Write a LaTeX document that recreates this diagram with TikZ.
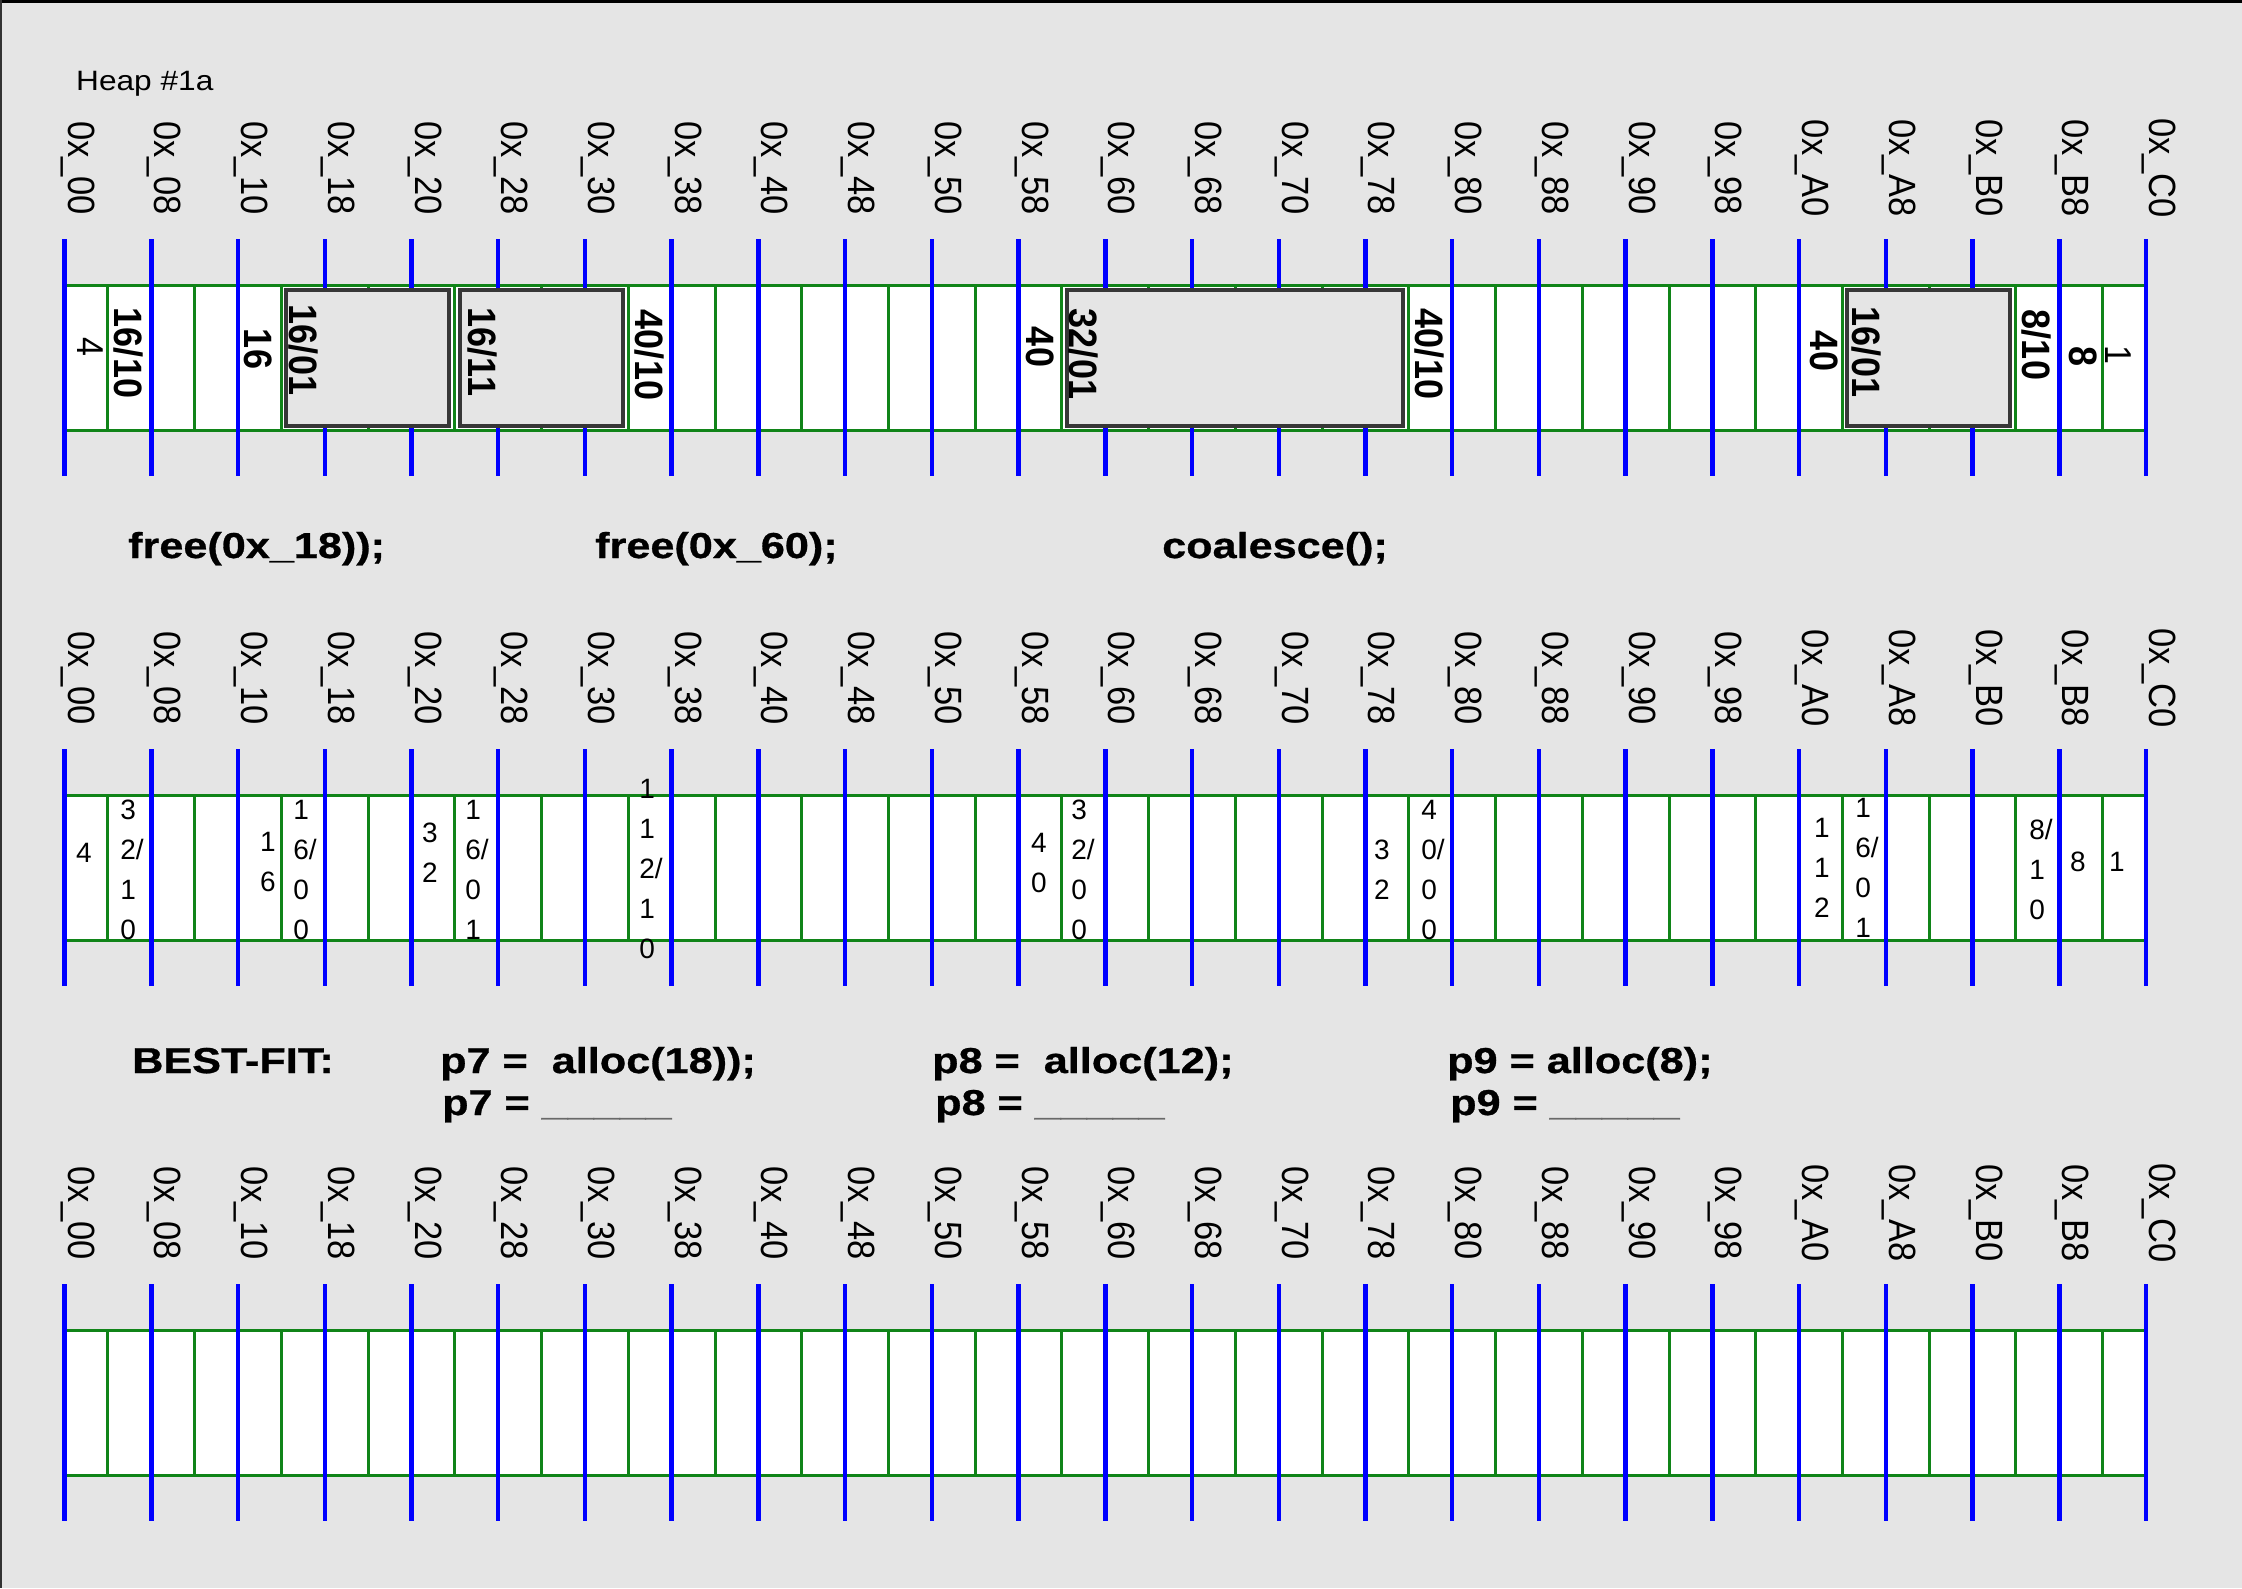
\documentclass[tikz,border=0pt]{standalone}
\usepackage{fontspec}
\setmainfont{Liberation Sans}
\newfontfamily\boldwide{Liberation Sans}[FakeStretch=1.2, BoldFeatures={FakeBold=0.8}]
\newfontfamily\heapfont{Liberation Sans}[FakeStretch=1.13]
\newcommand\vs[1]{\scalebox{1}[1.1]{#1}}
\newcommand\blank{\textcolor{ulgray}{\scalebox{1.08}[1]{\_\_\_\_\_}}}
\definecolor{bg}{RGB}{229,229,229}
\definecolor{cellgreen}{RGB}{16,132,24}
\definecolor{boxgray}{RGB}{55,55,55}
\definecolor{ulgray}{RGB}{105,105,105}
\begin{document}
\begin{tikzpicture}[x=1pt,y=-1pt,
  addr/.style={rotate=-90, anchor=base, inner sep=0pt, font=\fontsize{34.5}{40}\selectfont},
  hdr/.style={rotate=-90, inner sep=0pt, font=\fontsize{36}{40}\selectfont\bfseries},
  hdrn/.style={rotate=-90, inner sep=0pt, font=\fontsize{34}{40}\selectfont},
  stk/.style={align=left, inner sep=0pt, font=\fontsize{28}{40}\selectfont},
  cmd/.style={anchor=base west, inner sep=0pt, font=\boldwide\bfseries\fontsize{36}{42}\selectfont},
  heapst/.style={anchor=base west, inner sep=0pt, font=\heapfont\fontsize{28}{34}\selectfont},
  blueline/.style={draw=blue, line width=4.5pt},
  greenline/.style={draw=cellgreen, line width=3pt},
  blk/.style={draw=boxgray, line width=4pt, fill=bg},
]
\useasboundingbox (0,0) rectangle (2242,1588);
\fill[bg] (0,0) rectangle (2242,1588);
\fill[black] (0,0) rectangle (2242,3);
\fill[black!80] (0,0) rectangle (1.5,1588);

% three heap strips
\foreach \r/\oy in {1/0,2/510,3/1045} {
  \fill[white] (64.6,285+\oy) rectangle (2146,430+\oy);
  \foreach \j in {1,...,47} {
    \draw[greenline] ({64.6+43.3625*\j},285+\oy) -- ({64.6+43.3625*\j},430+\oy);
  }
  \draw[greenline] (64.6,285+\oy) rectangle (2146,430+\oy);
  \foreach \i in {0,...,24} {
    \draw[blueline] ({64.6+86.725*\i},239+\oy) -- ({64.6+86.725*\i},476+\oy);
  }
  \foreach \i/\h in {0/00,1/08,2/10,3/18,4/20,5/28,6/30,7/38,8/40,9/48,10/50,11/58,12/60,
                     13/68,14/70,15/78,16/80,17/88,18/90,19/98,20/A0,21/A8,22/B0,23/B8,24/C0} {
    \node[addr] (lab\r-\i) at ({64.6+86.725*\i+3.5},168+\oy) {\vs{0x\_\h}};
  }
}

% allocated blocks in the first heap
\draw[blk] (286.2,289.5) rectangle (449.2,425.5);
\draw[blk] (459.7,289.5) rectangle (622.6,425.5);
\draw[blk] (1066.7,289.5) rectangle (1403.3,425.5);
\draw[blk] (1847.3,289.5) rectangle (2010.3,425.5);

% heap title
\node[heapst] (heap) at (76,90) {Heap \#1a};

% first heap labels
\node[hdrn] (t1a) at (90,347) {\vs{4}};
\node[hdr] (t1b) at (128,353) {\vs{16/10}};
\node[hdr] (t1c) at (258,349) {\vs{16}};
\node[hdr] (t1d) at (303,350) {\vs{16/01}};
\node[hdr] (t1e) at (482,352) {\vs{16/11}};
\node[hdr] (t1f) at (649,355) {\vs{40/10}};
\node[hdr] (t1g) at (1040,347) {\vs{40}};
\node[hdr] (t1h) at (1083,354) {\vs{32/01}};
\node[hdr] (t1i) at (1429,354) {\vs{40/10}};
\node[hdr] (t1j) at (1824,351) {\vs{40}};
\node[hdr] (t1k) at (1866,352) {\vs{16/01}};
\node[hdr] (t1l) at (2036,345) {\vs{8/10}};
\node[hdr] (t1m) at (2083,357) {\vs{8}};
\node[hdrn] (t1n) at (2118,355) {\vs{1}};

% operations
\node[cmd] (f1) at (128,558) {free(0x\_18));};
\node[cmd] (f2) at (595,558) {free(0x\_60);};
\node[cmd] (f3) at (1162,558) {coalesce();};

% second heap labels
\node[stk] (t2a) at (84,853) {4};
\node[stk] (t2b) at (132,870) {3\\2/\\1\\0};
\node[stk] (t2c) at (268,862) {1\\6};
\node[stk] (t2d) at (305,870) {1\\6/\\0\\0};
\node[stk] (t2e) at (430,853) {3\\2};
\node[stk] (t2f) at (477,870) {1\\6/\\0\\1};
\node[stk] (t2g) at (651,869) {1\\1\\2/\\1\\0};
\node[stk] (t2h) at (1039,863) {4\\0};
\node[stk] (t2i) at (1083,870) {3\\2/\\0\\0};
\node[stk] (t2j) at (1382,870) {3\\2};
\node[stk] (t2k) at (1433,870) {4\\0/\\0\\0};
\node[stk] (t2l) at (1822,868) {1\\1\\2};
\node[stk] (t2m) at (1867,868) {1\\6/\\0\\1};
\node[stk] (t2n) at (2041,869) {8/\\1\\0};
\node[stk] (t2o) at (2078,862) {8};
\node[stk] (t2p) at (2117,862) {1};

% best-fit questions
\node[cmd] (bf) at (132,1073) {BEST-FIT:};
\node[cmd] (p7a) at (440,1073) {p7 =\ \ alloc(18));};
\node[cmd] (p7b) at (442,1115) {p7 = \blank};
\node[cmd] (p8a) at (932,1073) {p8 =\ \ alloc(12);};
\node[cmd] (p8b) at (935,1115) {p8 = \blank};
\node[cmd] (p9a) at (1447,1073) {p9 = alloc(8);};
\node[cmd] (p9b) at (1450,1115) {p9 = \blank};
\end{tikzpicture}
\end{document}
